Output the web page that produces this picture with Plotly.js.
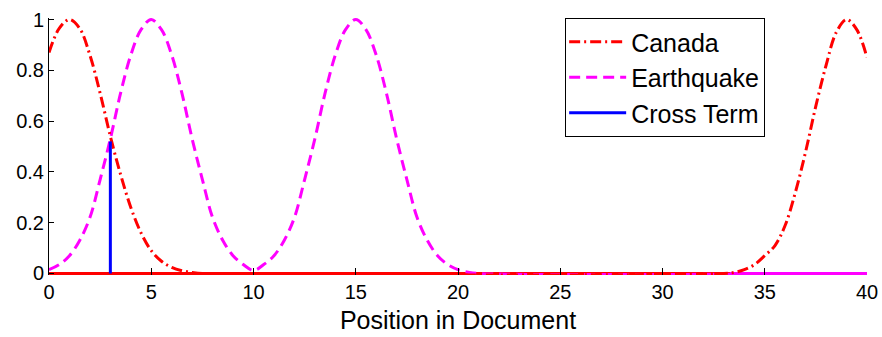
<!DOCTYPE html>
<html>
<head>
<meta charset="utf-8">
<script src="https://cdn.plot.ly/plotly-3.0.1.min.js"></script>
<style>
  html, body { margin: 0; padding: 0; background: #fff; }
  #chart { width: 882px; height: 337px; }
</style>
</head>
<body>
<div id="chart"></div>
<script>
// values
var canadaX = [0, 0.5, 1, 1.5, 2, 2.5, 3, 3.5, 4, 4.5, 5, 5.5, 6, 6.5, 7, 7.5,
               33, 33.5, 34, 34.5, 35, 35.5, 36, 36.5, 37, 37.5, 38, 38.5, 39, 39.5, 40];
var canadaY = [0.87, 0.965, 1.0, 0.965, 0.86, 0.71, 0.54, 0.39, 0.26, 0.16, 0.09, 0.048, 0.024, 0.011, 0.004, 0,
               0, 0.004, 0.015, 0.035, 0.07, 0.11, 0.19, 0.32, 0.48, 0.66, 0.82, 0.95, 1.0, 0.96, 0.85];

var quakeX = [0, 0.5, 1, 1.5, 2, 2.5, 3, 3.5, 4, 4.5, 5, 5.5, 6, 6.5, 7, 7.5, 8, 8.5, 9, 9.5,
              10, 10.5, 11, 11.5, 12, 12.5, 13, 13.5, 14, 14.5, 15, 15.5, 16, 16.5, 17, 17.5,
              18, 18.5, 19, 19.5, 20, 20.5, 21, 40];
var quakeY = [0.015, 0.035, 0.07, 0.13, 0.22, 0.37, 0.53, 0.71, 0.86, 0.96, 1.0, 0.96, 0.86, 0.71, 0.53, 0.37, 0.22, 0.13, 0.07, 0.035,
              0.012, 0.035, 0.07, 0.13, 0.22, 0.37, 0.53, 0.71, 0.86, 0.96, 1.0, 0.96, 0.86, 0.71, 0.53, 0.37,
              0.22, 0.13, 0.07, 0.035, 0.015, 0.005, 0, 0];

var crossX = [3, 3];
var crossY = [0, 0.52];

// flat stretches along zero look solid in the original
var baseRedX = [0, 33.3];
var baseMagentaX = [33.3, 40];

var fontFamily = 'Liberation Sans, Arial, sans-serif';

var traceBaseRed = {
  x: baseRedX, y: [0, 0],
  type: 'scatter', mode: 'lines',
  line: {color: '#ff0000', width: 3},
  showlegend: false, hoverinfo: 'skip'
};

var traceBaseMagenta = {
  x: baseMagentaX, y: [0, 0],
  type: 'scatter', mode: 'lines',
  line: {color: '#ff00ff', width: 3},
  showlegend: false, hoverinfo: 'skip'
};

var traceQuake = {
  x: quakeX, y: quakeY,
  name: 'Earthquake',
  type: 'scatter', mode: 'lines',
  line: {color: '#ff00ff', width: 3, dash: '11px,6px', shape: 'spline'},
  legendrank: 2
};

var traceCanada = {
  x: canadaX, y: canadaY,
  name: 'Canada',
  type: 'scatter', mode: 'lines',
  line: {color: '#ff0000', width: 3, dash: '11px,4px,2px,4px', shape: 'spline'},
  legendrank: 1
};

var traceCross = {
  x: crossX, y: crossY,
  name: 'Cross Term',
  type: 'scatter', mode: 'lines',
  line: {color: '#0000ff', width: 3},
  legendrank: 3
};

var data = [traceBaseRed, traceBaseMagenta, traceQuake, traceCanada, traceCross];

var layout = {
  width: 882,
  height: 337,
  margin: {l: 49, r: 15, t: 18, b: 62, pad: 0},
  paper_bgcolor: '#ffffff',
  plot_bgcolor: '#ffffff',
  font: {family: fontFamily, color: '#000000', size: 20},
  showlegend: true,
  legend: {
    x: 0.631, xanchor: 'left',
    y: 1.0, yanchor: 'top',
    bgcolor: '#ffffff',
    bordercolor: '#000000',
    borderwidth: 1,
    itemwidth: 55,
    font: {family: fontFamily, size: 25, color: '#000000'}
  },
  xaxis: {
    range: [0, 40],
    tickmode: 'linear', tick0: 0, dtick: 5,
    ticks: 'inside', ticklen: 7, tickcolor: '#000000', tickwidth: 1,
    ticklabelstandoff: 3,
    showline: false,
    showgrid: false,
    zeroline: false,
    tickfont: {family: fontFamily, size: 20, color: '#000000'},
    title: {text: 'Position in Document', font: {family: fontFamily, size: 25, color: '#000000'}, standoff: 9}
  },
  yaxis: {
    range: [-0.006, 1.006],
    tickmode: 'array',
    tickvals: [0, 0.2, 0.4, 0.6, 0.8, 1],
    ticktext: ['0', '0.2', '0.4', '0.6', '0.8', '1'],
    ticks: 'inside', ticklen: 5, tickcolor: '#000000', tickwidth: 1,
    showline: true, linecolor: '#000000', linewidth: 1,
    showgrid: false,
    zeroline: false,
    tickfont: {family: fontFamily, size: 20, color: '#000000'}
  }
};

var config = {staticPlot: true};

Plotly.newPlot('chart', data, layout, config).then(function (gd) {
  // longer legend line samples, like the original
  gd.querySelectorAll('.legendlines path').forEach(function (p) {
    p.setAttribute('d', 'M3,0h57');
  });
});
</script>
</body>
</html>
